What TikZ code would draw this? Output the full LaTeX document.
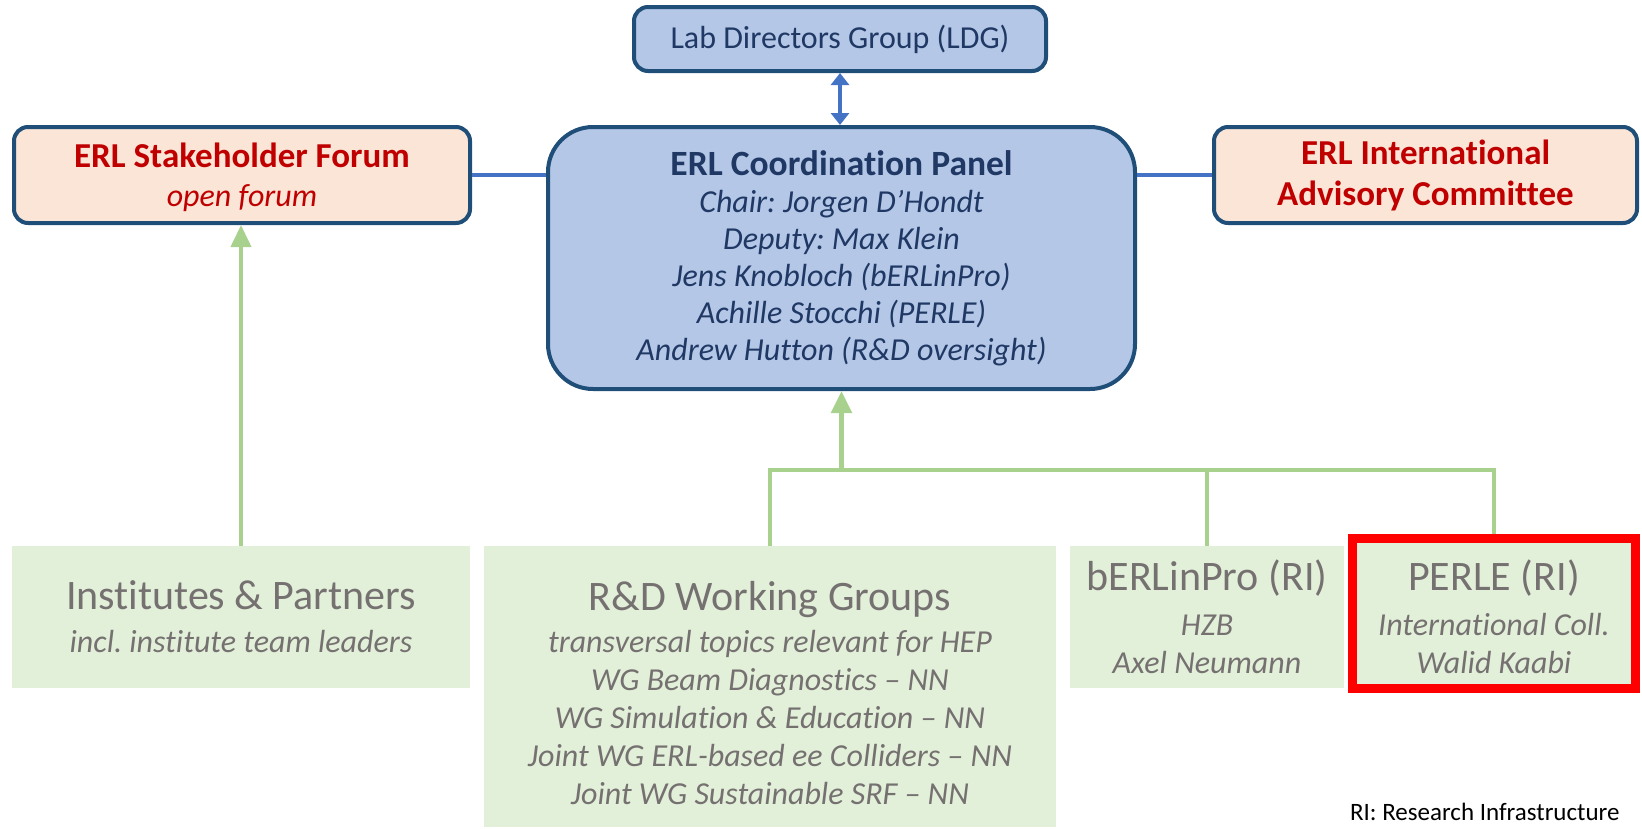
\documentclass[tikz,border=0pt]{standalone}
\usepackage{fontspec}
\setmainfont{Carlito}[Ligatures={TeX,NoCommon}]
\usetikzlibrary{arrows.meta,positioning}
\definecolor{boxedge}{HTML}{1F4E79}
\definecolor{panelfill}{HTML}{B4C7E7}
\definecolor{navytext}{HTML}{1F3864}
\definecolor{forumfill}{HTML}{FBE5D6}
\definecolor{forumtext}{HTML}{C00000}
\definecolor{groupfill}{HTML}{E2F0D9}
\definecolor{grouptext}{HTML}{767171}
\definecolor{feedgreen}{HTML}{A9D18E}
\definecolor{linkblue}{HTML}{4472C4}
\tikzset{
org/.style={x=1pt,y=-1pt},
box/.style={draw=boxedge,line width=4pt,rounded corners=14pt,align=center,inner sep=0pt},
bluebox/.style={box,fill=panelfill,text=navytext},
forumbox/.style={box,fill=forumfill,text=forumtext,minimum height=96pt},
groupbox/.style={fill=groupfill,text=grouptext,align=center,inner sep=0pt,minimum height=142pt,
font=\fontsize{32}{38}\selectfont\itshape},
link/.style={draw=linkblue,line width=3.5pt},
feed/.style={draw=feedgreen,line width=4pt},
twohead/.style={{Triangle[width=18pt,length=12pt]}-{Triangle[width=18pt,length=12pt]}},
uphead/.style={-{Triangle[width=20pt,length=22pt]}},
}
\newcommand{\grouptitle}[1]{{\fontsize{42}{42}\selectfont\upshape #1}}
\frenchspacing

\begin{document}
\begin{tikzpicture}[org]
\useasboundingbox (0,0) rectangle (1642,828);
% governance
\node[bluebox,minimum width=412pt,minimum height=64pt,font=\fontsize{32}{36}\selectfont] (ldg) at (840,39)
  {Lab Directors Group (LDG)};
\node[bluebox,rounded corners=45pt,minimum width=587pt,minimum height=262pt,
  font=\fontsize{32}{37}\selectfont\itshape] (panel) at (841.5,258)
  {{\fontsize{35.5}{37}\selectfont\upshape\bfseries ERL Coordination Panel}\\
   Chair: Jorgen D’Hondt\\
   Deputy: Max Klein\\
   Jens Knobloch (bERLinPro)\\
   Achille Stocchi (PERLE)\\
   Andrew Hutton (R\&D oversight)};
\node[forumbox,minimum width=456pt,font=\fontsize{32}{39}\selectfont\itshape] (forum) at (242,175)
  {{\fontsize{35}{39}\selectfont\upshape\bfseries\rule{0pt}{30pt}ERL Stakeholder Forum}\\ open forum};
\node[forumbox,minimum width=423pt,font=\fontsize{35}{41}\selectfont\bfseries] (iac) at (1425.5,175)
  {ERL International\\ Advisory Committee};
% groups
\node[groupbox,minimum width=458pt] (inst) at (241,617)
  {\grouptitle{Institutes \& Partners}\\[5pt] incl. institute team leaders};
\node[groupbox,minimum width=572pt,minimum height=281pt] (wg) at (770,686.5)
  {\grouptitle{\rule{0pt}{42pt}R\&D Working Groups}\\[4pt]
   transversal topics relevant for HEP\\
   WG Beam Diagnostics -- NN\\
   WG Simulation \& Education -- NN\\
   Joint WG ERL-based ee Colliders -- NN\\
   Joint WG Sustainable SRF -- NN};
\node[groupbox,minimum width=274pt] (bpro) at (1207,617)
  {\grouptitle{bERLinPro (RI)}\\[7pt] HZB\\ Axel Neumann};
\node[groupbox,draw=red,line width=9pt,minimum width=283pt,minimum height=150pt] (perle) at (1494,613.5)
  {\grouptitle{\rule{0pt}{38pt}PERLE (RI)}\\[7pt] International Coll.\\ Walid Kaabi};
\node[anchor=east,font=\fontsize{25}{28}\selectfont] (ri) at (1623,812) {RI: Research Infrastructure};

\coordinate (join) at (panel.south |- 0,470);

\draw[link,twohead] (ldg.south) -- (ldg.south |- panel.north);
\draw[link] (forum.east) -- (forum.east -| panel.west);
\draw[link] (iac.west) -- (iac.west -| panel.east);

\draw[feed,uphead] (inst.north) -- (inst.north |- forum.south);
\draw[feed] (wg.north) |- (perle.north |- join) -- (perle.north);
\draw[feed] (bpro.north) -- (bpro.north |- join);
\draw[feed,line width=5pt,uphead] (join) -- (panel.south);
\end{tikzpicture}
\end{document}
